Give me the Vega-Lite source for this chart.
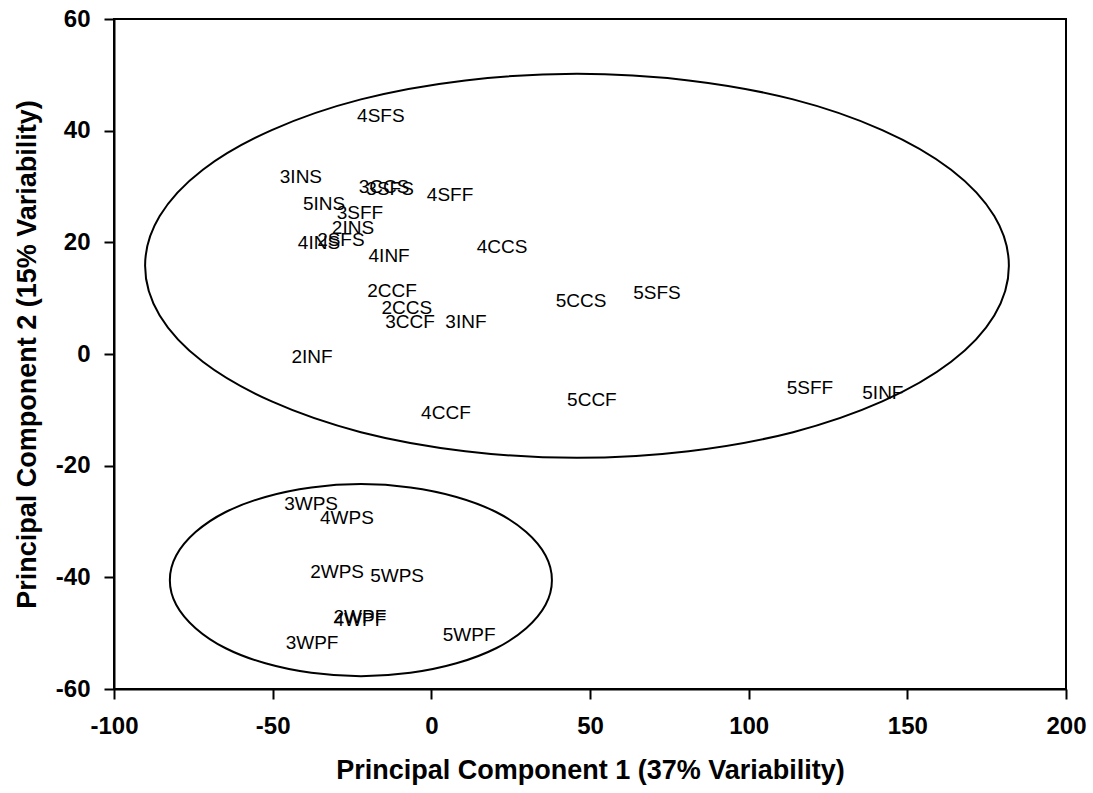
{
  "$schema": "https://vega.github.io/schema/vega-lite/v6.json",
  "width": 952,
  "height": 670,
  "autosize": {"type": "none"},
  "padding": {"left": 114, "top": 19, "right": 27, "bottom": 104},
  "background": "white",
  "config": {
    "view": {"stroke": "black", "strokeWidth": 2},
    "axis": {
      "grid": false,
      "domainColor": "black",
      "domainWidth": 2,
      "tickColor": "black",
      "tickWidth": 2,
      "tickSize": 10,
      "labelFlush": false,
      "labelFont": "Liberation Sans",
      "labelFontWeight": "bold",
      "labelFontSize": 24,
      "labelColor": "black",
      "labelExpr": "toString(datum.value)",
      "titleFont": "Liberation Sans",
      "titleFontWeight": "bold",
      "titleFontSize": 27,
      "titleColor": "black"
    }
  },
  "datasets": {
    "labels": [
      {"name": "4SFS", "pc1": -15.9, "pc2": 42.6},
      {"name": "3INS", "pc1": -41.1, "pc2": 31.7},
      {"name": "3CCS", "pc1": -14.9, "pc2": 29.9},
      {"name": "3SFS", "pc1": -13.0, "pc2": 29.5},
      {"name": "4SFF", "pc1": 5.9, "pc2": 28.5},
      {"name": "5INS", "pc1": -33.8, "pc2": 26.9},
      {"name": "3SFF", "pc1": -22.5, "pc2": 25.3},
      {"name": "2INS", "pc1": -24.7, "pc2": 22.6},
      {"name": "4INS", "pc1": -35.4, "pc2": 19.9},
      {"name": "2SFS", "pc1": -28.5, "pc2": 20.4},
      {"name": "4INF", "pc1": -13.3, "pc2": 17.5},
      {"name": "4CCS", "pc1": 22.3, "pc2": 19.2},
      {"name": "2CCF", "pc1": -12.4, "pc2": 11.3},
      {"name": "2CCS", "pc1": -7.7, "pc2": 8.2},
      {"name": "3CCF", "pc1": -6.7, "pc2": 5.7},
      {"name": "3INF", "pc1": 10.9, "pc2": 5.7},
      {"name": "2INF", "pc1": -37.6, "pc2": -0.5},
      {"name": "4CCF", "pc1": 4.6, "pc2": -10.6},
      {"name": "5CCS", "pc1": 47.2, "pc2": 9.5},
      {"name": "5SFS", "pc1": 71.1, "pc2": 10.9},
      {"name": "5CCF", "pc1": 50.6, "pc2": -8.2},
      {"name": "5SFF", "pc1": 119.3, "pc2": -6.1},
      {"name": "5INF", "pc1": 142.3, "pc2": -7.0},
      {"name": "3WPS", "pc1": -37.9, "pc2": -26.9},
      {"name": "4WPS", "pc1": -26.6, "pc2": -29.4},
      {"name": "2WPS", "pc1": -29.7, "pc2": -39.1},
      {"name": "5WPS", "pc1": -10.8, "pc2": -39.8},
      {"name": "2WPF", "pc1": -22.5, "pc2": -47.1},
      {"name": "4WPF", "pc1": -22.5, "pc2": -47.6},
      {"name": "3WPF", "pc1": -37.6, "pc2": -51.8},
      {"name": "5WPF", "pc1": 11.9, "pc2": -50.3}
    ],
    "ellipses": [
      {"group": "A", "i": 0, "pc1": 182.0, "pc2": 15.8},
      {"group": "A", "i": 1, "pc1": 177.4, "pc2": 24.7},
      {"group": "A", "i": 2, "pc1": 163.8, "pc2": 33.0},
      {"group": "A", "i": 3, "pc1": 142.1, "pc2": 40.1},
      {"group": "A", "i": 4, "pc1": 114.0, "pc2": 45.6},
      {"group": "A", "i": 5, "pc1": 81.1, "pc2": 49.0},
      {"group": "A", "i": 6, "pc1": 45.9, "pc2": 50.2},
      {"group": "A", "i": 7, "pc1": 10.7, "pc2": 49.0},
      {"group": "A", "i": 8, "pc1": -22.2, "pc2": 45.6},
      {"group": "A", "i": 9, "pc1": -50.3, "pc2": 40.1},
      {"group": "A", "i": 10, "pc1": -72.0, "pc2": 33.0},
      {"group": "A", "i": 11, "pc1": -85.6, "pc2": 24.7},
      {"group": "A", "i": 12, "pc1": -90.2, "pc2": 15.8},
      {"group": "A", "i": 13, "pc1": -85.6, "pc2": 6.9},
      {"group": "A", "i": 14, "pc1": -72.0, "pc2": -1.4},
      {"group": "A", "i": 15, "pc1": -50.3, "pc2": -8.5},
      {"group": "A", "i": 16, "pc1": -22.2, "pc2": -14.0},
      {"group": "A", "i": 17, "pc1": 10.7, "pc2": -17.4},
      {"group": "A", "i": 18, "pc1": 45.9, "pc2": -18.6},
      {"group": "A", "i": 19, "pc1": 81.1, "pc2": -17.4},
      {"group": "A", "i": 20, "pc1": 114.0, "pc2": -14.0},
      {"group": "A", "i": 21, "pc1": 142.1, "pc2": -8.5},
      {"group": "A", "i": 22, "pc1": 163.8, "pc2": -1.4},
      {"group": "A", "i": 23, "pc1": 177.4, "pc2": 6.9},
      {"group": "B", "i": 0, "pc1": 38.0, "pc2": -40.5},
      {"group": "B", "i": 1, "pc1": 36.0, "pc2": -36.1},
      {"group": "B", "i": 2, "pc1": 29.9, "pc2": -31.9},
      {"group": "B", "i": 3, "pc1": 20.4, "pc2": -28.3},
      {"group": "B", "i": 4, "pc1": 7.9, "pc2": -25.6},
      {"group": "B", "i": 5, "pc1": -6.6, "pc2": -23.9},
      {"group": "B", "i": 6, "pc1": -22.2, "pc2": -23.3},
      {"group": "B", "i": 7, "pc1": -37.8, "pc2": -23.9},
      {"group": "B", "i": 8, "pc1": -52.3, "pc2": -25.6},
      {"group": "B", "i": 9, "pc1": -64.8, "pc2": -28.3},
      {"group": "B", "i": 10, "pc1": -74.3, "pc2": -31.9},
      {"group": "B", "i": 11, "pc1": -80.4, "pc2": -36.1},
      {"group": "B", "i": 12, "pc1": -82.4, "pc2": -40.5},
      {"group": "B", "i": 13, "pc1": -80.4, "pc2": -44.9},
      {"group": "B", "i": 14, "pc1": -74.3, "pc2": -49.1},
      {"group": "B", "i": 15, "pc1": -64.8, "pc2": -52.7},
      {"group": "B", "i": 16, "pc1": -52.3, "pc2": -55.4},
      {"group": "B", "i": 17, "pc1": -37.8, "pc2": -57.1},
      {"group": "B", "i": 18, "pc1": -22.2, "pc2": -57.7},
      {"group": "B", "i": 19, "pc1": -6.6, "pc2": -57.1},
      {"group": "B", "i": 20, "pc1": 7.9, "pc2": -55.4},
      {"group": "B", "i": 21, "pc1": 20.4, "pc2": -52.7},
      {"group": "B", "i": 22, "pc1": 29.9, "pc2": -49.1},
      {"group": "B", "i": 23, "pc1": 36.0, "pc2": -44.9}
    ]
  },
  "layer": [
    {
      "data": {"name": "ellipses"},
      "mark": {"type": "line", "interpolate": "cardinal-closed", "stroke": "black", "strokeWidth": 2},
      "encoding": {
        "x": {
          "field": "pc1", "type": "quantitative",
          "scale": {"domain": [-100, 200], "nice": false, "zero": false},
          "axis": {"values": [-100, -50, 0, 50, 100, 150, 200], "title": "Principal Component 1 (37% Variability)", "labelPadding": 15, "titlePadding": 19}
        },
        "y": {
          "field": "pc2", "type": "quantitative",
          "scale": {"domain": [-60, 60], "nice": false, "zero": false},
          "axis": {"values": [-60, -40, -20, 0, 20, 40, 60], "title": "Principal Component 2 (15% Variability)", "labelPadding": 14, "titlePadding": 14}
        },
        "detail": {"field": "group"},
        "order": {"field": "i", "type": "quantitative"}
      }
    },
    {
      "data": {"name": "labels"},
      "mark": {"type": "text", "font": "Liberation Sans", "fontSize": 19, "color": "black", "align": "center", "baseline": "middle"},
      "encoding": {
        "x": {"field": "pc1", "type": "quantitative"},
        "y": {"field": "pc2", "type": "quantitative"},
        "text": {"field": "name"}
      }
    }
  ]
}
